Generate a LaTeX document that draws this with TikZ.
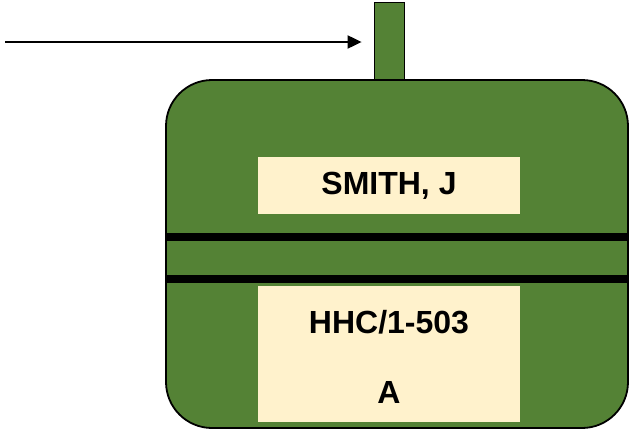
\documentclass[tikz,border=0pt]{standalone}
\usepackage{fontspec}
\setmainfont{Liberation Sans}
\usepackage{tikz}
\usetikzlibrary{arrows.meta,positioning}
\definecolor{tagGreen}{HTML}{548235}
\definecolor{tagCream}{HTML}{FFF2CC}
\tikzset{
  tagbody/.style={draw=black, line width=1.8pt, fill=tagGreen, rectangle, rounded corners=46pt, inner sep=0pt},
  tagtext/.style={font=\fontsize{32}{36}\selectfont\bfseries},
  tagfield/.style={fill=tagCream, rectangle, inner sep=0pt, tagtext},
  tagband/.style={draw=black, line width=8pt},
}
\begin{document}
\begin{tikzpicture}[x=1pt,y=-1pt]
  \useasboundingbox (0,0) rectangle (631,431);
  % tag outline
  \node[tagbody, minimum width=30pt, minimum height=78pt, rounded corners=0pt] (stem) at (389.5,41.5) {};
  \node[tagbody, minimum width=462pt, minimum height=348pt] (tag) at (397,254) {};
  \coordinate (b1) at (0,237);
  \coordinate (b2) at (0,279);
  \draw[tagband] (tag.west |- b1) -- (tag.east |- b1);
  \draw[tagband] (tag.west |- b2) -- (tag.east |- b2);
  % fields
  \node[tagfield, minimum width=262pt, minimum height=57pt] (name) at (389,185.5) {SMITH, J};
  \node[tagfield, minimum width=262pt, minimum height=136pt] (unit) at (389,354) {};
  \node[tagtext] (unitname) at (389,322) {HHC/1-503};
  \node[tagtext] (company) at (389,392) {A};
  % arrow
  \coordinate (start) at (5,42);
  \draw[line width=2pt, -{Triangle[length=14pt,width=13pt]}] (start) -- ([xshift=-12pt]stem.west |- start);
\end{tikzpicture}
\end{document}
